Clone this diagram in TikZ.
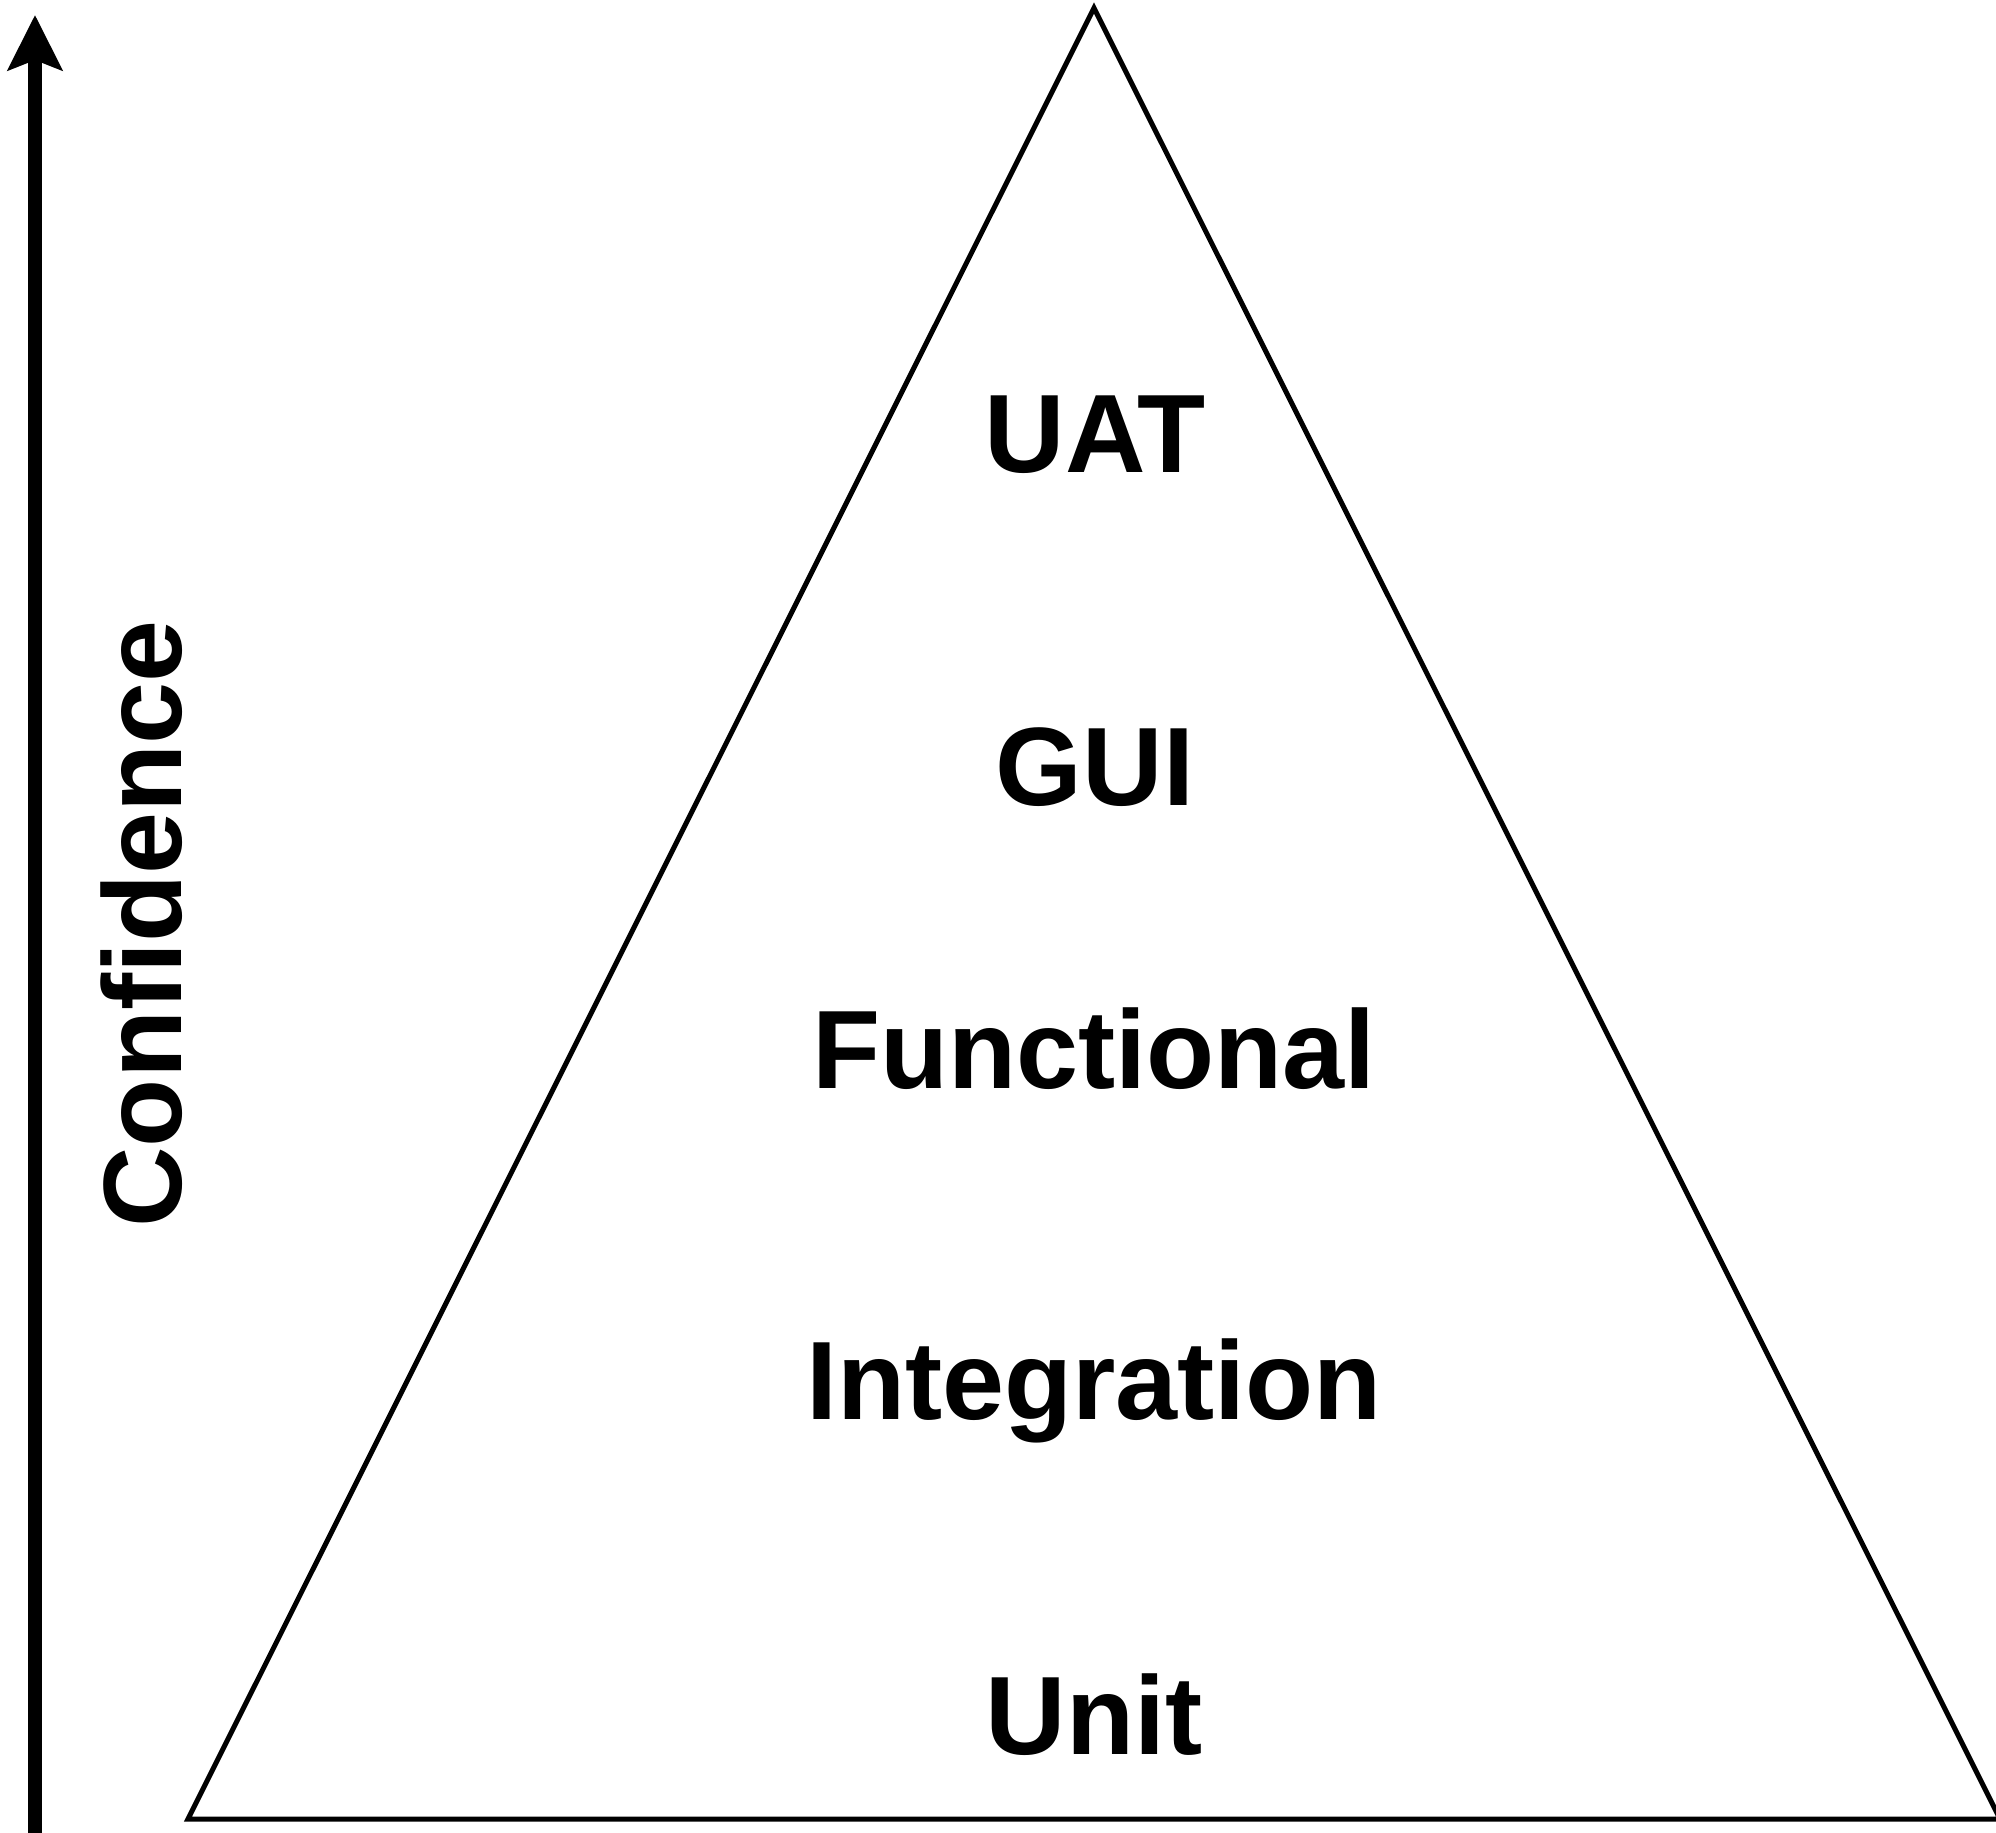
\documentclass[tikz,border=0pt]{standalone}
\usepackage{fontspec}
\setmainfont{Liberation Sans}
\usetikzlibrary{arrows.meta}
\begin{document}
\begin{tikzpicture}[
	x=0.01cm,
	y=-0.01cm,
	font=\fontsize{31.7}{38}\selectfont\bfseries,
	level/.style={anchor=base,inner sep=0pt},
	axis/.style={line width=0.13cm,-{Stealth[length=5.5mm,width=5.4mm,inset=1mm]}},
	pyramid/.style={draw,line width=0.05cm,line join=miter},
	]
\useasboundingbox (0,0) rectangle (1996,1833);
\coordinate (top) at (1094,8);
\coordinate (left) at (188,1819);
\coordinate (right) at (2000,1819);
\draw [pyramid] (top) -- (left) -- (right) -- cycle;
\node [level] (uat) at (1095,472) {UAT};
\node [level] (gui) at (1095,805) {GUI};
\node [level] (func) at (1094,1088) {Functional};
\node [level] (integ) at (1094,1419) {Integration};
\node [level] (unit) at (1094,1754) {Unit};
\coordinate (low) at (35,1840);
\coordinate (high) at (35,15);
\draw [axis] (low) -- (high);
\node [level,rotate=90] (conf) at (181,924) {Confidence};
\end{tikzpicture}
\end{document}
